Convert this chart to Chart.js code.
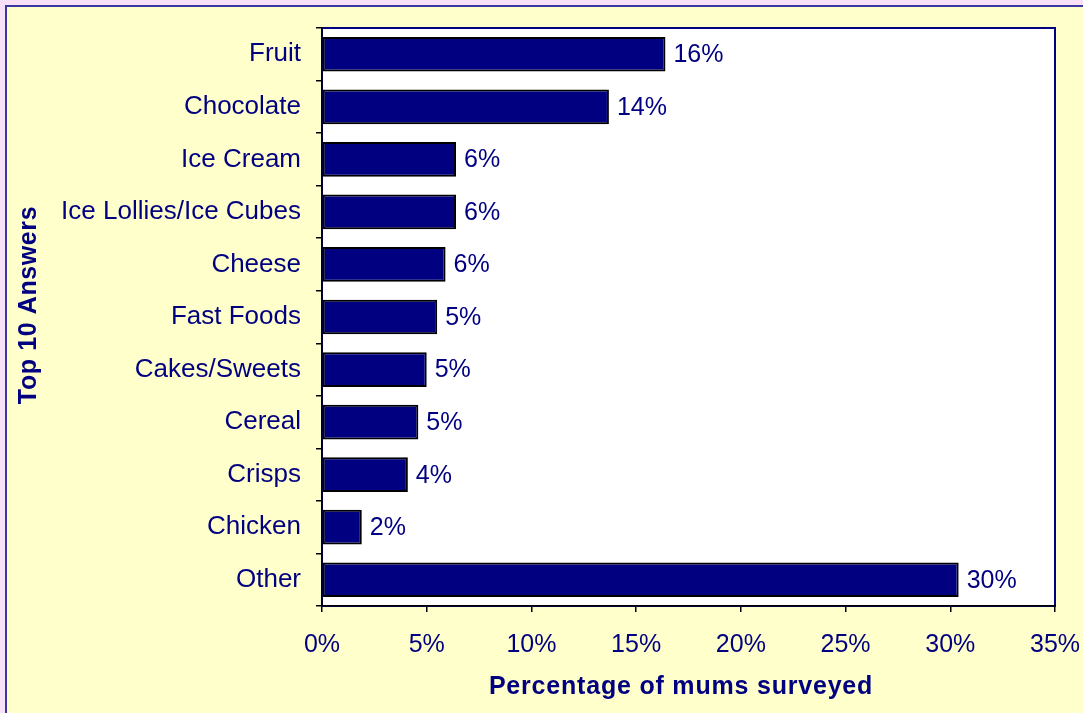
<!DOCTYPE html>
<html>
<head>
<meta charset="utf-8">
<script src="https://cdn.jsdelivr.net/npm/chart.js@4.4.1/dist/chart.umd.min.js"></script>
<style>
html,body{margin:0;padding:0;background:#FFFFCC;}
canvas{display:block;}
</style>
</head>
<body>
<canvas id="c" width="1083" height="713"></canvas>
<script>
const categories = ['Fruit','Chocolate','Ice Cream','Ice Lollies/Ice Cubes','Cheese','Fast Foods','Cakes/Sweets','Cereal','Crisps','Chicken','Other'];
const values = [16.4, 13.7, 6.4, 6.4, 5.9, 5.5, 5.0, 4.6, 4.1, 1.9, 30.4];
const valueLabels = ['16%','14%','6%','6%','6%','5%','5%','5%','4%','2%','30%'];
const xTickMax = 35;
const xTickStep = 5;
const xTitle = 'Percentage of mums surveyed';
const yTitle = 'Top 10 Answers';

const NAVY = '#000080';
const FONT = '"Liberation Sans", Arial, sans-serif';

const framePlugin = {
  id: 'frame',
  beforeDraw(chart) {
    const ctx = chart.ctx, W = chart.width, H = chart.height;
    ctx.save();
    ctx.fillStyle = '#F8E0F8';
    ctx.fillRect(0, 0, W, H);
    ctx.fillStyle = '#3838A0';
    ctx.fillRect(5, 5, W - 5, H - 5);
    ctx.fillStyle = '#FFFFCC';
    ctx.fillRect(7, 7, W - 7, H - 7);
    const a = chart.chartArea;
    ctx.fillStyle = '#FFFFFF';
    ctx.fillRect(a.left, a.top, a.right - a.left, a.bottom - a.top);
    ctx.strokeStyle = NAVY;
    ctx.lineWidth = 2;
    ctx.strokeRect(a.left, a.top, a.right - a.left, a.bottom - a.top);
    ctx.restore();
  },
  afterDraw(chart) {
    const ctx = chart.ctx;
    const xs = chart.scales.x, ys = chart.scales.y;
    ctx.save();
    ctx.fillStyle = NAVY;
    ctx.font = '25px ' + FONT;
    ctx.textAlign = 'left';
    ctx.textBaseline = 'middle';
    values.forEach((v, i) => {
      ctx.fillText(valueLabels[i], xs.getPixelForValue(v) + 8, ys.getPixelForValue(i) + 1);
    });
    ctx.font = 'bold 25px ' + FONT;
    ctx.letterSpacing = '0.8px';
    ctx.textAlign = 'center';
    ctx.textBaseline = 'alphabetic';
    ctx.fillText(xTitle, 681, 694);
    ctx.translate(36, 305);
    ctx.rotate(-Math.PI / 2);
    ctx.letterSpacing = '0.6px';
    ctx.fillText(yTitle, 0, 0);
    ctx.restore();
  }
};

new Chart(document.getElementById('c'), {
  type: 'bar',
  data: {
    labels: categories,
    datasets: [{
      data: values,
      backgroundColor: NAVY,
      borderColor: '#000000',
      borderWidth: 2,
      borderSkipped: false,
      barPercentage: 0.66,
      categoryPercentage: 1.0
    }]
  },
  options: {
    indexAxis: 'y',
    responsive: false,
    animation: false,
    devicePixelRatio: 1,
    layout: { padding: { left: 0, top: 28, right: 28, bottom: 0 } },
    plugins: { legend: { display: false }, tooltip: { enabled: false } },
    scales: {
      x: {
        min: 0, max: xTickMax,
        afterFit(s) { s.height = 107; s.paddingLeft = 0; s.paddingRight = 0; },
        ticks: {
          stepSize: xTickStep,
          autoSkip: false,
          maxRotation: 0,
          padding: 18,
          color: NAVY,
          font: { size: 25, family: FONT },
          callback: (v) => v + '%'
        },
        grid: { drawOnChartArea: false, drawTicks: true, tickLength: 6, color: '#000000', lineWidth: 1.5 },
        border: { display: true, color: '#000000', width: 1.5 }
      },
      y: {
        afterFit(s) { s.width = 322; s.paddingTop = 0; s.paddingBottom = 0; },
        ticks: {
          autoSkip: false,
          padding: 15,
          color: NAVY,
          font: { size: 26, family: FONT }
        },
        grid: { offset: true, drawOnChartArea: false, drawTicks: true, tickLength: 6, color: '#000000', lineWidth: 1.5 },
        border: { display: true, color: '#000000', width: 1.5 }
      }
    }
  },
  plugins: [framePlugin]
});
</script>
</body>
</html>
